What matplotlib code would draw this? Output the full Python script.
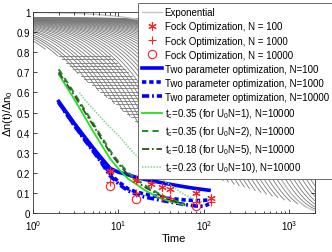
import numpy as np
import matplotlib
matplotlib.use("Agg")
import matplotlib.pyplot as plt

plt.rcParams['font.family'] = ['Liberation Sans', 'DejaVu Sans']
plt.rcParams['mathtext.default'] = 'regular'

# ---------------- data ----------------
# exponential family: amplitude and decay times
exp_amp = 0.97
exp_tau = [8, 9, 10, 11, 12.5, 14, 15.5, 17.5, 19.5, 22, 24.5, 27.5, 31, 34.5,
           38.5, 43, 48, 54, 60, 67, 75, 84, 94, 105, 118, 132, 148, 165, 185,
           207, 232, 260, 290, 325, 365, 410, 460, 515, 575, 645, 720, 810,
           905, 1015, 1135, 1270, 1420, 1590, 1780, 2000, 2240, 2500, 2800,
           3150, 3500, 3950, 4400, 5000, 5600, 6300]
exp_label_tau = 450
# lower boundary of the exponential region
env_t = [1, 2, 4, 16.8, 87, 2000]
env_y = [0.85, 0.78, 0.667, 0.45, 0.20, 0.02]
# horizontal hatch levels
hatch_levels = [0.78, 0.764, 0.748, 0.732, 0.716, 0.70, 0.684, 0.668, 0.652,
                0.636, 0.62, 0.604, 0.588, 0.572, 0.556, 0.54, 0.524, 0.508,
                0.492, 0.476, 0.46, 0.444]

fock100_t = [8, 16, 24, 32, 40, 80, 120]
fock100_y = [0.21, 0.165, 0.145, 0.13, 0.12, 0.10, 0.075]
fock1000_t = [8, 16, 32, 40, 80, 120]
fock1000_y = [0.153, 0.10, 0.08, 0.075, 0.055, 0.055]
fock10000_t = [8, 16, 80]
fock10000_y = [0.136, 0.07, 0.033]

two100_t = [2, 3, 4, 5, 6, 8, 10, 13, 16, 20, 30, 40, 60, 80, 115]
two100_y = [0.555, 0.45, 0.38, 0.327, 0.285, 0.222, 0.203, 0.19, 0.178, 0.168,
            0.153, 0.143, 0.13, 0.122, 0.113]
two1000_t = [2, 3, 4, 5, 6, 8, 10, 13, 16, 20, 30, 40, 60, 80, 100, 120]
two1000_y = [0.55, 0.44, 0.37, 0.315, 0.27, 0.195, 0.155, 0.12, 0.105, 0.095,
             0.08, 0.072, 0.065, 0.062, 0.063, 0.066]
two10000_t = [2, 3, 4, 5, 6, 8, 10, 13, 16, 20, 30, 40, 60, 80, 100, 115]
two10000_y = [0.55, 0.44, 0.365, 0.31, 0.265, 0.185, 0.145, 0.11, 0.095, 0.08,
              0.065, 0.055, 0.042, 0.035, 0.033, 0.045]

tc1_t = [2, 3, 4, 5, 6, 8, 10, 13, 16, 20, 30, 40, 60]
tc1_y = [0.69, 0.57, 0.48, 0.41, 0.355, 0.27, 0.22, 0.17, 0.145, 0.115, 0.075,
         0.058, 0.04]
tc2_t = [2, 3, 4, 5, 6, 8, 10, 13, 16, 20, 30, 40, 60]
tc2_y = [0.715, 0.60, 0.515, 0.45, 0.395, 0.31, 0.255, 0.20, 0.17, 0.14, 0.095,
         0.07, 0.045]
tc5_t = [2, 3, 4, 5, 6, 8, 10, 13, 16, 20, 30, 40, 60]
tc5_y = [0.70, 0.59, 0.505, 0.44, 0.385, 0.30, 0.245, 0.19, 0.16, 0.13, 0.09,
         0.065, 0.04]
tc10_t = [3.5, 4, 5, 7, 10, 15, 20, 30, 40, 60, 80, 100]
tc10_y = [0.60, 0.565, 0.52, 0.45, 0.385, 0.30, 0.25, 0.18, 0.14, 0.09, 0.065,
          0.05]

labels = ['Exponential',
          'Fock Optimization, N = 100',
          'Fock Optimization, N = 1000',
          'Fock Optimization, N = 10000',
          'Two parameter optimization, N=100',
          'Two parameter optimization, N=1000',
          'Two parameter optimization, N=10000',
          r'$t_c$=0.35 (for $U_0$N=1), N=10000',
          r'$t_c$=0.35 (for $U_0$N=2), N=10000',
          r'$t_c$=0.18 (for $U_0$N=5), N=10000',
          r'$t_c$=0.23 (for $U_0$N=10), N=10000']

# ---------------- figure ----------------
W, H = 332, 253
fig = plt.figure(figsize=(W / 100, H / 100), dpi=100)
ax = fig.add_axes([33 / W, 1 - 214 / H, (315 - 33) / W, (214 - 13) / H])
ax.set_xscale('log')

t = np.logspace(0, np.log10(2000), 600)
env = np.interp(np.log10(t), np.log10(env_t), env_y)
gray = '#7a7a7a'
for tau in exp_tau:
    y = exp_amp * np.exp(-t / tau)
    y = np.where(y >= env - 0.002, y, np.nan)
    ax.plot(t, y, color=gray, lw=0.6, zorder=1)
for lev in hatch_levels:
    ts = 10 ** np.interp(lev, env_y[::-1], np.log10(env_t)[::-1])
    ax.plot([ts, ts * 4], [lev, lev], color=gray, lw=0.6, zorder=1)
ax.plot(t, np.exp(-t / exp_label_tau), color='#c4c4c4', lw=1.0, zorder=1,
        label=labels[0])

red = '#ff2020'
asterisk = (6, 2, 0)
ax.plot(fock100_t, fock100_y, ls='none', marker=asterisk, ms=6, color=red,
        mec=red, mew=0.8, label=labels[1], zorder=4)
ax.plot(fock1000_t, fock1000_y, ls='none', marker='+', ms=6, color=red,
        mew=0.8, label=labels[2], zorder=4)
ax.plot(fock10000_t, fock10000_y, ls='none', marker='o', ms=6, mfc='none',
        mec=red, mew=0.8, label=labels[3], zorder=4)

blue = '#0000ff'
ax.plot(two100_t, two100_y, color=blue, lw=2.6, label=labels[4], zorder=3)
ax.plot(two1000_t, two1000_y, color=blue, lw=2.6, ls=(0, (1.2, 0.8)),
        label=labels[5], zorder=3)
ax.plot(two10000_t, two10000_y, color=blue, lw=2.6,
        ls=(0, (2.0, 0.8, 0.5, 0.8)), label=labels[6], zorder=3)

ax.plot(tc1_t, tc1_y, color='#22dd22', lw=1.3, label=labels[7], zorder=3)
ax.plot(tc2_t, tc2_y, color='#2e8b2e', lw=1.5, ls=(0, (3, 2)),
        label=labels[8], zorder=3)
ax.plot(tc5_t, tc5_y, color='#2f4f1f', lw=1.3, ls=(0, (4, 1.5, 1, 1.5)),
        label=labels[9], zorder=3)
ax.plot(tc10_t, tc10_y, color='#8fd49f', lw=1.3, ls=(0, (0.8, 0.8)),
        label=labels[10], zorder=3)

ax.set_xlim(1, 2000)
ax.set_ylim(0, 1)
ax.set_yticks([0, 0.1, 0.2, 0.3, 0.4, 0.5, 0.6, 0.7, 0.8, 0.9, 1])
ax.set_yticklabels(['0', '0.1', '0.2', '0.3', '0.4', '0.5', '0.6', '0.7',
                    '0.8', '0.9', '1'])
ax.tick_params(which='both', direction='in', top=True, right=True,
               labelsize=7)
ax.tick_params(axis='y', pad=2)
ax.tick_params(axis='x', pad=3.5)
ax.tick_params(which='major', length=3, width=0.5)
ax.tick_params(which='minor', length=1.8, width=0.5)
for s in ax.spines.values():
    s.set_linewidth(0.6)
    s.set_color('#333333')
ax.set_xlabel('Time', fontsize=8, labelpad=1)
ax.set_ylabel(r'$\Delta$n(t)/$\Delta$n$_0$', fontsize=8, labelpad=1)

leg = fig.legend(loc='upper left', bbox_to_anchor=(138 / W, 1 - 4 / H),
                 bbox_transform=fig.transFigure, fontsize=7, frameon=True,
                 fancybox=False, edgecolor='#555555', framealpha=1,
                 handlelength=2.0, handletextpad=0.3, borderpad=0.45,
                 labelspacing=0.42, borderaxespad=0)
leg.get_frame().set_linewidth(0.6)
leg.set_zorder(10)

fig.savefig('out.png', dpi=100)
